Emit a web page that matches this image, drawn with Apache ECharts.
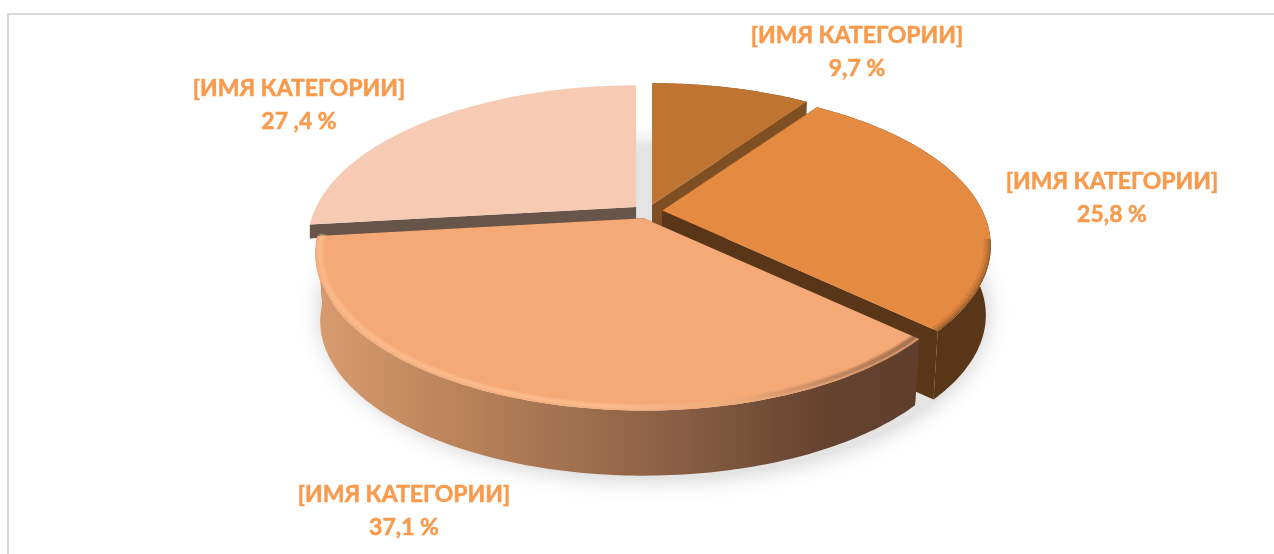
<!DOCTYPE html>
<html><head><meta charset="utf-8">
<style>html,body{margin:0;padding:0;background:#fff}#c{width:1274px;height:554px}</style>
<script src="https://cdn.jsdelivr.net/npm/echarts@6/dist/echarts.min.js"></script>
</head><body><div id="c"></div>
<script>
// Data, in the order the slices run clockwise from 12 o'clock
const categories = ['[ИМЯ КАТЕГОРИИ]', '[ИМЯ КАТЕГОРИИ]', '[ИМЯ КАТЕГОРИИ]', '[ИМЯ КАТЕГОРИИ]'];
const shares = [9.7, 25.8, 37.1, 27.4];
const shareLabels = ['9,7 %', '25,8 %', '37,1 %', '27 ,4 %'];

// Styles
const topColors = ['#BF7432', '#E58A41', '#F4A977', '#F6CAB3'];
const wallColors = ['#7E4F22', '#5A3618', '#62422E', '#67554A'];
const wallDepths = [70, 70, 68, 14];
const paintRank = [1, 2, 3, 0];
const labelAnchors = [[857, 52], [1112, 198], [404, 511], [299, 105]];

// Projection of the tilted disc
const C = { x: 647.5, y: 211.5, rx: 320, ry: 149, k: 0.225, ex: 15, ey: 7, floor: 0.985 };
const twist = t => t + (0.667 * Math.sin(t) - 0.897 * Math.sin(2 * t) + 2.545 * (1 - Math.cos(t))) * Math.PI / 180;

function project(a, b, r, depth) {
  const s = depth > 20 ? C.floor : 1, d = depth || 0;
  const t = twist(r);
  const u = Math.sin(t) * b, v = -Math.cos(t) * b, w = 1 - C.k * v;
  return [a[0] + s * C.rx * u / w, a[1] + d + s * C.ry * v / w];
}
function arc(a, t0, t1, rad, depth) {
  const n = Math.max(4, Math.ceil((t1 - t0) * 60)), pts = [];
  for (let i = 0; i <= n; i++) pts.push(project(a, rad, t0 + (t1 - t0) * i / n, depth));
  return pts;
}
const total = shares.reduce((s, v) => s + v, 0);
function bounds(i) {
  const before = shares.slice(0, i).reduce((s, v) => s + v, 0);
  return [before / total * 2 * Math.PI, (before + shares[i]) / total * 2 * Math.PI];
}
function apex(i) {
  const [t0, t1] = bounds(i), m = (t0 + t1) / 2;
  return [C.x + C.ex * Math.sin(m), C.y - C.ey * Math.cos(m)];
}
const poly = (points, style, z2) => ({ type: 'polygon', silent: true, z2, shape: { points }, style });
const line = (points, style, z2) => ({ type: 'polyline', silent: true, z2, shape: { points }, style: Object.assign({ fill: null, lineCap: 'round' }, style) });
const grad = (x0, x1, stops) => ({ type: 'linear', global: true, x: x0, y: 0, x2: x1, y2: 0,
  colorStops: stops.map(s => ({ offset: s[0], color: s[1] })) });

function renderSlice(params) {
  const i = params.dataIndex, [t0, t1] = bounds(i), a = apex(i), z = (paintRank[i] + 1) * 10;
  const depth = wallDepths[i];
  const topArc = arc(a, t0, t1, 1, 0), lowArc = arc(a, t0, t1, 1, depth);
  const aLow = project(a, 0, 0, depth);
  const isFront = i === 2;
  const wall = isFront ? grad(313, 912, [[0, '#D99C70'], [0.25, '#B98259'], [0.6, '#8A5F45'], [0.85, '#64432F'], [1, '#5F3F2C']]) : wallColors[i];
  const kids = [];
  [t0, t1].forEach(t => {
    kids.push(poly([a, project(a, 1, t, 0), project(a, 1, t, depth), aLow], { fill: wallColors[i] }, z));
  });
  if (i !== 3) kids.push(poly(topArc.concat(lowArc.slice().reverse()), { fill: wall }, z + 1));
  kids.push(poly([a].concat(topArc), { fill: topColors[i] }, z + 2));

  // soft bevel along the front edge of the top face
  if (isFront) {
    const glow = grad(313, 912, [[0, '#FFC596'], [0.5, '#FFC596'], [0.72, '#E8A878'], [0.88, '#A06E4E'], [1, '#6E4A34']]);
    [[0.992, 4, 0.28], [0.986, 3.5, 0.45], [0.979, 3, 0.3]].forEach(([r, w, o]) => {
      kids.push(line(arc(a, t0, t1, r, 0), { stroke: glow, lineWidth: w, opacity: o }, z + 3));
    });
  } else if (i === 1) {
    const tf = Math.PI * 0.54;
    [[0.998, 1.5, 0.55], [0.992, 2.5, 0.3], [0.984, 3, 0.12]].forEach(([r, w, o]) => {
      kids.push(line(arc(a, tf, t1, r, 0), { stroke: wallColors[1], lineWidth: w, opacity: o }, z + 3));
    });
  }
  // label
  const pos = labelAnchors[i];
  kids.push({ type: 'text', silent: true, z2: 100, x: pos[0], y: pos[1], style: {
    text: categories[i] + '\n' + shareLabels[i], fill: '#F89A4C', stroke: '#F89A4C', lineWidth: 0.5,
    align: 'center', verticalAlign: 'middle', lineHeight: 33,
    font: 'bold 23px Lato, "Open Sans", sans-serif' } });
  if (i === 0) {
    // cast shadow of the whole disc, painted beneath every slice
    const ring = [];
    for (let j = 0; j < 72; j++) { const th = j / 72 * 2 * Math.PI; ring.push([654 + 332 * Math.sin(th), 312 - 166 * Math.cos(th)]); }
    kids.push(poly(ring, { fill: '#E4E4E4', shadowBlur: 24, shadowColor: '#C8C8C8' }, 1));
  }
  return { type: 'group', children: kids };
}

const chart = echarts.init(document.getElementById('c'), null, { renderer: 'canvas' });
chart.setOption({
  animation: false,
  backgroundColor: '#fff',
  graphic: [{ type: 'polyline', silent: true, z: -1, shape: { points: [[8, 554], [8, 14], [1274, 14]] },
    style: { stroke: '#D9D9D9', lineWidth: 2, fill: null } }],
  series: [{ type: 'custom', coordinateSystem: 'none', renderItem: renderSlice,
    data: shares.map((v, i) => ({ name: categories[i], value: v })) }]
});
</script></body></html>
